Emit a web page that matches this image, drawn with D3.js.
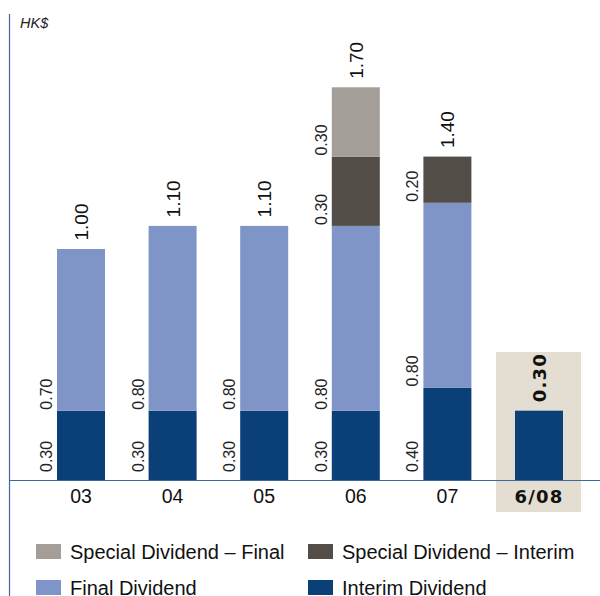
<!DOCTYPE html>
<html><head><meta charset="utf-8">
<script src="https://cdn.jsdelivr.net/npm/d3@7"></script>
<style>body{margin:0;background:#fff}svg{display:block}</style>
</head><body>
<svg id="c" width="600" height="596"></svg>
<script>
const categories = ["03","04","05","06","07","6/08"];
const interim = [0.30,0.30,0.30,0.30,0.40,0.30];
const finalDiv = [0.70,0.80,0.80,0.80,0.80,0];
const specialInterim = [0,0,0,0.30,0.20,0];
const specialFinal = [0,0,0,0.30,0,0];
const totals = [1.00,1.10,1.10,1.70,1.40,0.30];
const seriesNames = ["Interim Dividend","Final Dividend","Special Dividend – Interim","Special Dividend – Final"];
const seriesColors = ["#0b3f78","#7f95c8","#524d46","#a39f98"];
const highlightCat = "6/08";

const svg = d3.select("#c");
const font = "'Liberation Sans', Arial, sans-serif";
const axisColor = "#3d6a98";

const x = d3.scaleBand().domain(categories).range([13.4, 606.6]).paddingInner(0.476).paddingOuter(0.476);
const y = d3.scaleLinear().domain([0, 1]).range([480, 249]);

const rows = categories.map((c, i) => ({cat: c, v: [interim[i], finalDiv[i], specialInterim[i], specialFinal[i]], total: totals[i]}));

// highlight background
svg.append("rect")
  .attr("x", x(highlightCat) - 19).attr("y", 352)
  .attr("width", x.bandwidth() + 37).attr("height", 160)
  .attr("fill", "#e3ddd2");

// bars
rows.forEach((r, i) => {
  let acc = 0;
  r.v.forEach((val, k) => {
    if (val <= 0) { return; }
    const y0 = y(acc), y1 = y(acc + val);
    svg.append("rect")
      .attr("x", x(r.cat)).attr("y", y1)
      .attr("width", x.bandwidth()).attr("height", y0 - y1)
      .attr("fill", seriesColors[k]);
    if (r.cat !== highlightCat) {
      const off = k === 0 ? 8 : 1;
      const tx = x(r.cat) - 5, ty = y0 - off;
      svg.append("text")
        .attr("transform", `translate(${tx},${ty}) rotate(-90)`)
        .attr("font-family", font).attr("font-size", 16).attr("fill", "#222")
        .text(val.toFixed(2));
    }
    acc += val;
  });
  // total label
  const cx = x(r.cat) + x.bandwidth() / 2;
  const isH = r.cat === highlightCat;
  svg.append("text")
    .attr("transform", `translate(${cx + 7},${y(r.total) - 8.5}) rotate(-90)`)
    .attr("font-family", isH ? "'DejaVu Sans', sans-serif" : font)
    .attr("font-weight", isH ? "bold" : "normal")
    .attr("font-size", isH ? 18 : 19)
    .attr("letter-spacing", isH ? 1.2 : 0)
    .attr("fill", "#111")
    .text(r.total.toFixed(2));
});

// axes
svg.append("line").attr("x1", 9.5).attr("x2", 9.5).attr("y1", 14).attr("y2", 596)
  .attr("stroke", axisColor).attr("stroke-width", 1.2);
svg.append("line").attr("x1", 9).attr("x2", 600).attr("y1", 480.5).attr("y2", 480.5)
  .attr("stroke", axisColor).attr("stroke-width", 1.2);

const xAxis = d3.axisBottom(x).tickSize(0).tickPadding(0);
const gx = svg.append("g").attr("transform", "translate(0,480)").call(xAxis);
gx.select(".domain").remove();
gx.selectAll("text")
  .attr("y", 23).attr("dy", 0)
  .attr("font-family", d => d === highlightCat ? "'DejaVu Sans', sans-serif" : font)
  .attr("font-weight", d => d === highlightCat ? "bold" : "normal")
  .attr("font-size", d => d === highlightCat ? 18 : 19.5)
  .attr("letter-spacing", d => d === highlightCat ? 1.2 : 0)
  .attr("fill", "#111");

// unit label
svg.append("text").attr("x", 20).attr("y", 28)
  .attr("font-family", font).attr("font-style", "italic").attr("font-size", 14.5).attr("fill", "#222")
  .text("HK$");

// legend
const legendItems = [
  {k: 3, col: 0, row: 0},
  {k: 2, col: 1, row: 0},
  {k: 1, col: 0, row: 1},
  {k: 0, col: 1, row: 1}
];
const colX = [36, 308], rowY = [544, 580];
legendItems.forEach(it => {
  svg.append("rect").attr("x", colX[it.col]).attr("y", rowY[it.row])
    .attr("width", 25).attr("height", 15).attr("fill", seriesColors[it.k]);
  svg.append("text").attr("x", colX[it.col] + 34).attr("y", rowY[it.row] + 15)
    .attr("font-family", font).attr("font-size", 20).attr("fill", "#111")
    .text(seriesNames[it.k]);
});
</script>
</body></html>
